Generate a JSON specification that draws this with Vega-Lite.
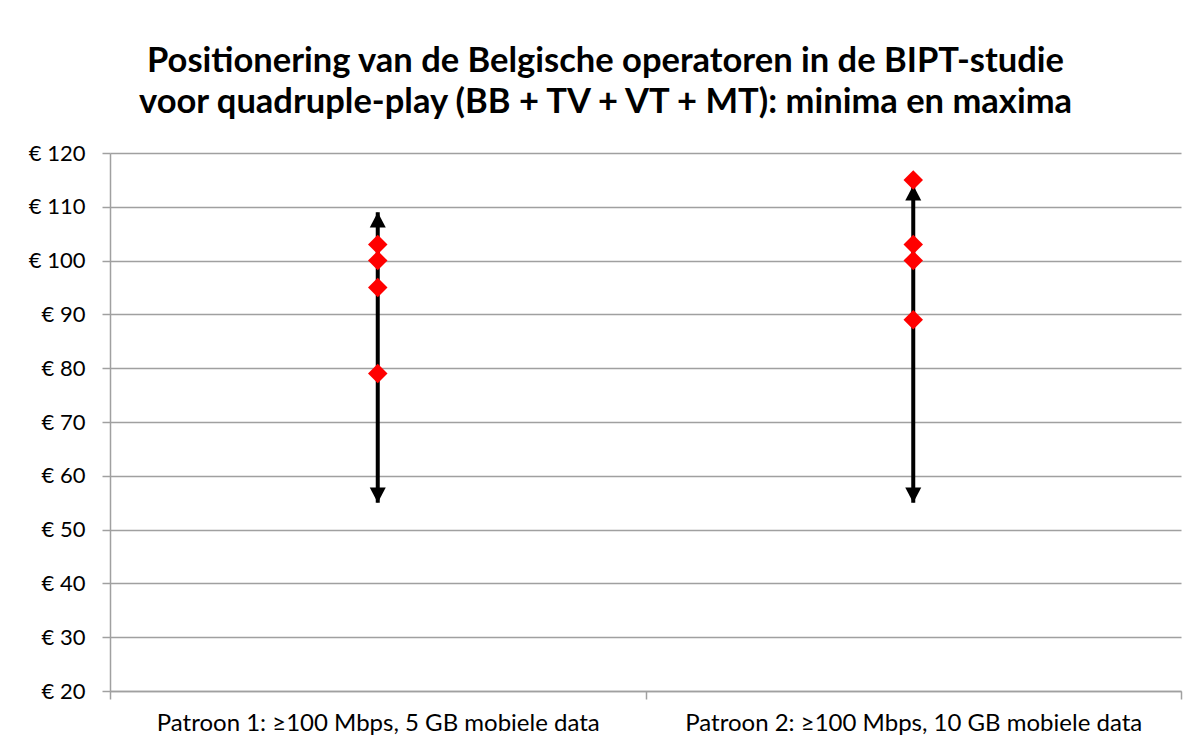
{
  "$schema": "https://vega.github.io/schema/vega-lite/v6.json",
  "autosize": "none",
  "width": 1071,
  "height": 538,
  "padding": {"left": 110, "top": 153, "right": 19, "bottom": 58},
  "background": "white",
  "title": {
    "text": ["Positionering van de Belgische operatoren in de BIPT-studie", "voor quadruple-play (BB + TV + VT + MT): minima en maxima"],
    "font": "Lato",
    "fontSize": 34.5,
    "fontWeight": "bold",
    "color": "black",
    "anchor": "middle",
    "frame": "group",
    "dx": -40,
    "lineHeight": 41,
    "baseline": "alphabetic",
    "offset": -5
  },
  "datasets": {
    "ranges": [
      {"patroon": "Patroon 1: ≥100 Mbps, 5 GB mobiele data", "min": 55, "max": 109},
      {"patroon": "Patroon 2: ≥100 Mbps, 10 GB mobiele data", "min": 55, "max": 114}
    ],
    "prices": [
      {"patroon": "Patroon 1: ≥100 Mbps, 5 GB mobiele data", "prijs": 103},
      {"patroon": "Patroon 1: ≥100 Mbps, 5 GB mobiele data", "prijs": 100},
      {"patroon": "Patroon 1: ≥100 Mbps, 5 GB mobiele data", "prijs": 95},
      {"patroon": "Patroon 1: ≥100 Mbps, 5 GB mobiele data", "prijs": 79},
      {"patroon": "Patroon 2: ≥100 Mbps, 10 GB mobiele data", "prijs": 115},
      {"patroon": "Patroon 2: ≥100 Mbps, 10 GB mobiele data", "prijs": 103},
      {"patroon": "Patroon 2: ≥100 Mbps, 10 GB mobiele data", "prijs": 100},
      {"patroon": "Patroon 2: ≥100 Mbps, 10 GB mobiele data", "prijs": 89}
    ]
  },
  "encoding": {
    "x": {
      "field": "patroon",
      "type": "nominal",
      "title": null,
      "scale": {"paddingInner": 0, "paddingOuter": 0},
      "axis": {
        "labelAngle": 0,
        "labelFont": "Lato",
        "labelFontSize": 24,
        "labelColor": "black",
        "labelPadding": 12,
        "labelLimit": 0,
        "tickBand": "extent",
        "tickSize": 8,
        "tickColor": "#a0a0a0",
        "tickWidth": 1.5,
        "domainColor": "#a0a0a0",
        "domainWidth": 1.5,
        "grid": false
      }
    }
  },
  "layer": [
    {
      "data": {"name": "ranges"},
      "mark": {"type": "rule", "color": "black", "strokeWidth": 4},
      "encoding": {
        "y": {
          "field": "min",
          "type": "quantitative",
          "title": null,
          "scale": {"domain": [20, 120], "nice": false, "zero": false},
          "axis": {
            "values": [20, 30, 40, 50, 60, 70, 80, 90, 100, 110, 120],
            "labelExpr": "'€ ' + datum.value",
            "labelFont": "Lato",
            "labelFontSize": 22,
            "labelColor": "black",
            "labelPadding": 17,
            "tickSize": 8,
            "tickColor": "#a0a0a0",
            "tickWidth": 1.5,
            "domainColor": "#a0a0a0",
            "domainWidth": 1.5,
            "gridColor": "#a0a0a0",
            "gridWidth": 1.5
          }
        },
        "y2": {"field": "max"}
      }
    },
    {
      "data": {"name": "ranges"},
      "mark": {"type": "point", "shape": "M0,0L-1,1.9L1,1.9Z", "filled": true, "color": "black", "opacity": 1, "size": 256},
      "encoding": {"y": {"field": "max", "type": "quantitative"}}
    },
    {
      "data": {"name": "ranges"},
      "mark": {"type": "point", "shape": "M0,0L-1,-1.9L1,-1.9Z", "filled": true, "color": "black", "opacity": 1, "size": 256},
      "encoding": {"y": {"field": "min", "type": "quantitative"}}
    },
    {
      "data": {"name": "prices"},
      "mark": {"type": "point", "shape": "diamond", "filled": true, "color": "#ff0000", "opacity": 1, "size": 380},
      "encoding": {"y": {"field": "prijs", "type": "quantitative"}}
    }
  ],
  "config": {
    "view": {"stroke": null}
  }
}
